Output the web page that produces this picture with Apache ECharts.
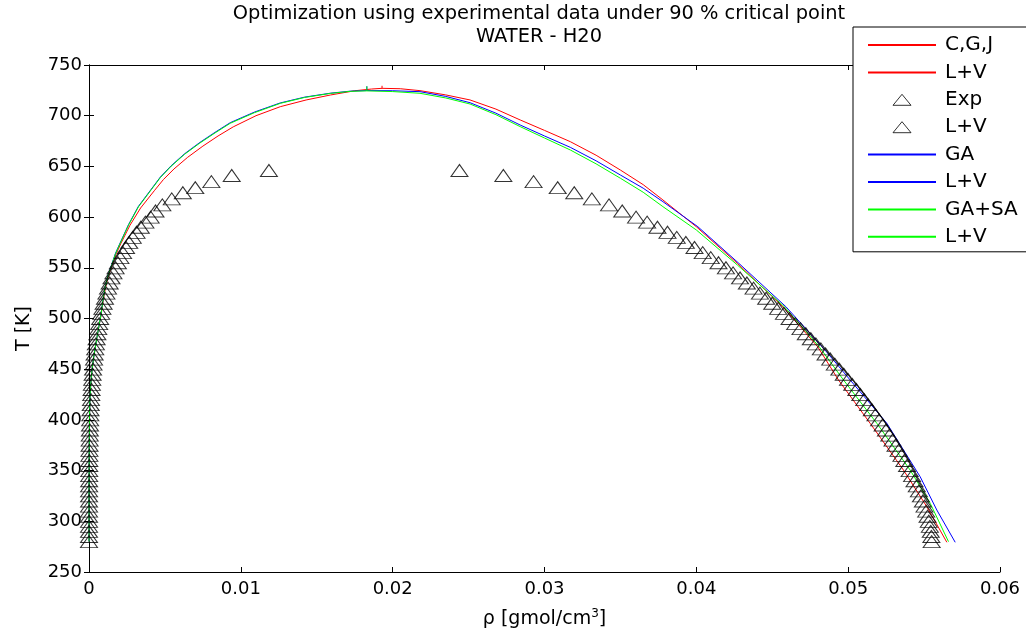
<!DOCTYPE html>
<html><head><meta charset="utf-8">
<script src="https://cdn.jsdelivr.net/npm/echarts@6/dist/echarts.min.js"></script>
<style>html,body{margin:0;padding:0;background:#fff}#c{width:1026px;height:630px}</style>
</head><body><div id="c"></div>
<script>
// ---- data ----
const xTickLabels = ['0','0.01','0.02','0.03','0.04','0.05','0.06'];
const yTickLabels = ['250','300','350','400','450','500','550','600','650','700','750'];

const expT = [280,285,290,295,300,305,310,315,320,325,330,335,340,345,350,355,360,365,370,375,380,385,390,395,400,405,410,415,420,425,430,435,440,445,450,455,460,465,470,475,480,485,490,495,500,505,510,515,520,525,530,535,540,545,550,555,560,565,570,575,580,585,590,595,600,606,612,618,624,629,635,641,646];
const expVap = [0.0000004,0.0000006,0.0000008,0.0000011,0.0000014,0.0000019,0.0000024,0.0000031,0.0000040,0.0000050,0.0000063,0.0000078,0.0000096,0.0000118,0.0000143,0.0000173,0.0000208,0.0000249,0.0000296,0.0000355,0.0000419,0.0000490,0.0000571,0.0000661,0.0000765,0.0000879,0.0001010,0.0001151,0.0001313,0.0001488,0.0001685,0.0001898,0.0002137,0.0002395,0.0002682,0.0002990,0.0003333,0.0003700,0.0004107,0.0004542,0.0005021,0.0005532,0.0006095,0.0006694,0.0007349,0.0008049,0.000882,0.000963,0.001052,0.001147,0.001251,0.001361,0.001482,0.001610,0.001751,0.001902,0.002068,0.002244,0.002440,0.002649,0.002881,0.003131,0.003412,0.003716,0.004060,0.00438,0.00483,0.00545,0.00618,0.00700,0.00806,0.00940,0.01185];
const expLiq = [0.05550,0.05548,0.05544,0.05538,0.05531,0.05523,0.05514,0.05503,0.05492,0.05479,0.05466,0.05452,0.05437,0.05421,0.05405,0.05388,0.05370,0.05351,0.05332,0.05312,0.05292,0.05271,0.05249,0.05227,0.05204,0.05180,0.05156,0.05131,0.05106,0.05080,0.05054,0.05027,0.04999,0.04971,0.04942,0.04912,0.04882,0.04851,0.04820,0.04787,0.04754,0.04721,0.04686,0.04651,0.04614,0.04577,0.04539,0.04500,0.04460,0.04419,0.04377,0.04333,0.04288,0.04242,0.04195,0.04146,0.04095,0.04042,0.03988,0.03931,0.03871,0.03810,0.03744,0.03676,0.03603,0.03512,0.03425,0.03312,0.03196,0.03087,0.02928,0.02729,0.02440];

// model curves: [rho, T]
const cgjVap = [[0,280],[0,330],[0.00001,370],[0.00003,400],[0.00006,420],[0.0001,432],[0.00015,442],[0.00022,452],[0.0003,461],[0.0004,470],[0.00052,481],[0.00065,492],[0.00078,502],[0.00092,516],[0.00108,530],[0.00128,542],[0.00153,553],[0.0018,564],[0.0021,574],[0.0027,592],[0.0034,609],[0.0043,626],[0.0049,637],[0.0056,647.5],[0.0065,659],[0.0075,670],[0.0085,680],[0.0095,689],[0.0110,700],[0.0126,708.9],[0.0143,715.5],[0.0159,720.4],[0.0175,724.6],[0.0186,726.3],[0.0193,727],[0.0193,729.5]];
const cgjLiq = [[0.0193,727],[0.0205,726.6],[0.0218,724.7],[0.0235,720.5],[0.0251,715.5],[0.0268,706.5],[0.0284,695.8],[0.0300,685.5],[0.0317,674.4],[0.0334,661],[0.0350,646.4],[0.0365,632],[0.0378,616.9],[0.0400,590.5],[0.0427,554.4],[0.0457,511.6],[0.0480,472],[0.04936,439.4],[0.05145,396.6],[0.05364,350.6],[0.05518,314.4],[0.0565,279.3]];
const gaVap = [[0,280],[0,330],[0.00001,370],[0.00003,400],[0.00006,420],[0.0001,432],[0.00015,442],[0.00022,452],[0.0003,461],[0.0004,470],[0.00052,481],[0.00065,492],[0.00077,502],[0.0009,516],[0.00105,530],[0.00125,542.5],[0.0015,553.5],[0.00175,564.5],[0.00205,574.5],[0.0026,592.5],[0.00325,610.5],[0.0041,627.5],[0.0047,639.5],[0.0054,650.5],[0.0063,662.5],[0.0073,673.6],[0.0083,683.6],[0.0093,693.1],[0.0109,703.6],[0.0126,712.6],[0.0142,718.3],[0.0159,722.2],[0.0172,724.2],[0.0183,724.8],[0.0183,729]];
const gaLiq = [[0.0183,724.8],[0.0200,724.6],[0.0218,723.7],[0.0235,719],[0.0251,712.8],[0.0268,702.5],[0.0284,690.8],[0.0300,680],[0.0317,668.8],[0.0334,655.5],[0.0350,641.5],[0.0365,628.5],[0.0378,615.2],[0.0401,590.5],[0.0428,554.4],[0.0459,511.6],[0.0483,472],[0.05013,439.4],[0.05255,396.6],[0.05474,344],[0.05584,311.1],[0.05705,279.3]];
const gasaVap = [[0,280],[0,330],[0.00001,370],[0.00003,400],[0.00006,420],[0.0001,432],[0.00015,442],[0.00022,452],[0.0003,461],[0.0004,470],[0.00052,481],[0.00065,492],[0.00077,502],[0.0009,516],[0.00105,530],[0.00125,542],[0.0015,553],[0.00175,564],[0.00205,574],[0.0026,592],[0.00325,610],[0.0041,627],[0.0047,639],[0.0054,650],[0.0063,662],[0.0073,673],[0.0083,683],[0.0093,692.5],[0.0109,703],[0.0126,712.2],[0.0142,718],[0.0159,722],[0.0172,724],[0.0183,724.5],[0.0183,729]];
const gasaLiq = [[0.0183,724.5],[0.0200,723.8],[0.0218,722.1],[0.0235,717.5],[0.0251,711.5],[0.0268,701],[0.0284,689.2],[0.0300,678],[0.0317,666.2],[0.0334,652.5],[0.0350,638.3],[0.0365,624.5],[0.0378,610.3],[0.0400,587.3],[0.0427,552.8],[0.0458,511.6],[0.0481,472],[0.04969,439.4],[0.05189,396.6],[0.05408,350.6],[0.0554,317.8],[0.05661,279.9]];

// ---- chart ----
const FONT = 'DejaVu Sans';
const triPath = 'path://M9,0 L18,11 L0,11 Z';
const expVapPts = expT.map((t, i) => [expVap[i], t]);
const expLiqPts = expT.map((t, i) => [expLiq[i], t]);

function lineSeries(name, data, color) {
  return { name, type: 'line', data, symbol: 'none', smooth: false,
    lineStyle: { color, width: 1 }, itemStyle: { color }, z: 3, animation: false };
}
function triSeries(name, data) {
  return { name, type: 'scatter', data, symbol: 'triangle', symbolSize: [17, 12],
    itemStyle: { color: 'rgba(0,0,0,0)', borderColor: '#000', borderWidth: 1 }, z: 3, animation: false };
}
const axisCommon = {
  axisLine: { show: true, lineStyle: { color: '#000', width: 1 } },
  axisTick: { show: true, inside: true, length: 5, lineStyle: { color: '#000' } },
  splitLine: { show: false }
};
const lineLegendStyle = { color: 'rgba(0,0,0,0)', borderWidth: 0, opacity: 0 };
const triLegendStyle = { color: 'rgba(0,0,0,0)', borderColor: '#000', borderWidth: 1 };

const chart = echarts.init(document.getElementById('c'));
chart.setOption({
  animation: false,
  backgroundColor: '#fff',
  title: {
    text: 'Optimization using experimental data under 90 % critical point\nWATER - H20',
    left: 539, textAlign: 'center', top: 0, padding: [2, 0, 0, 0],
    textStyle: { fontFamily: FONT, fontSize: 19.4, fontWeight: 'normal', color: '#000', lineHeight: 23.5 }
  },
  grid: { left: 89, right: 26, top: 65, bottom: 58, outerBoundsMode: 'none', containLabel: false },
  xAxis: [
    Object.assign({ type: 'value', min: 0, max: 0.06, interval: 0.01, position: 'bottom',
      name: '{n|ρ [gmol/cm}{s|3}{n|]}', nameLocation: 'middle', nameGap: 36,
      nameTextStyle: { rich: { n: { fontFamily: FONT, fontSize: 19, color: '#000' },
                               s: { fontFamily: FONT, fontSize: 12, color: '#000', padding: [0, 0, 10, 0] } } },
      axisLabel: { fontFamily: FONT, fontSize: 18, color: '#000', margin: 8,
        formatter: v => xTickLabels[Math.round(v / 0.01)] } }, axisCommon),
    Object.assign({ type: 'value', min: 0, max: 0.06, interval: 0.01, position: 'top',
      axisLabel: { show: false } }, axisCommon)
  ],
  yAxis: [
    Object.assign({ type: 'value', min: 250, max: 750, interval: 50, position: 'left',
      name: 'T [K]', nameLocation: 'middle', nameGap: 55,
      nameTextStyle: { fontFamily: FONT, fontSize: 19, color: '#000', padding: [0, 20, 0, 0] },
      axisLabel: { fontFamily: FONT, fontSize: 18, color: '#000', margin: 7,
        formatter: v => yTickLabels[Math.round((v - 250) / 50)] } }, axisCommon),
    Object.assign({ type: 'value', min: 250, max: 750, interval: 50, position: 'right',
      axisLabel: { show: false } }, axisCommon)
  ],
  legend: {
    orient: 'vertical', left: 853, top: 27,
    padding: [8, 120, 5, 14],
    backgroundColor: '#fff', borderColor: '#000', borderWidth: 1, borderRadius: 0,
    itemWidth: 68, itemHeight: 11, itemGap: 7.4,
    selectedMode: false, z: 10,
    textStyle: { fontFamily: FONT, fontSize: 20, color: '#000', lineHeight: 20, padding: [0, 0, 0, 4] },
    data: [
      { name: 'C,G,J', itemStyle: lineLegendStyle }, { name: 'L+V', itemStyle: lineLegendStyle },
      { name: 'Exp', icon: triPath, itemStyle: triLegendStyle },
      { name: 'L+V ', icon: triPath, itemStyle: triLegendStyle },
      { name: 'GA', itemStyle: lineLegendStyle }, { name: 'L+V  ', itemStyle: lineLegendStyle },
      { name: 'GA+SA', itemStyle: lineLegendStyle }, { name: 'L+V   ', itemStyle: lineLegendStyle }
    ]
  },
  series: [
    lineSeries('C,G,J', cgjVap, '#ff0000'),
    lineSeries('L+V', cgjLiq, '#ff0000'),
    triSeries('Exp', expVapPts),
    triSeries('L+V ', expLiqPts),
    lineSeries('GA', gaVap, '#0000ff'),
    lineSeries('L+V  ', gaLiq, '#0000ff'),
    lineSeries('GA+SA', gasaVap, '#00ff00'),
    lineSeries('L+V   ', gasaLiq, '#00ff00')
  ]
});
</script></body></html>
